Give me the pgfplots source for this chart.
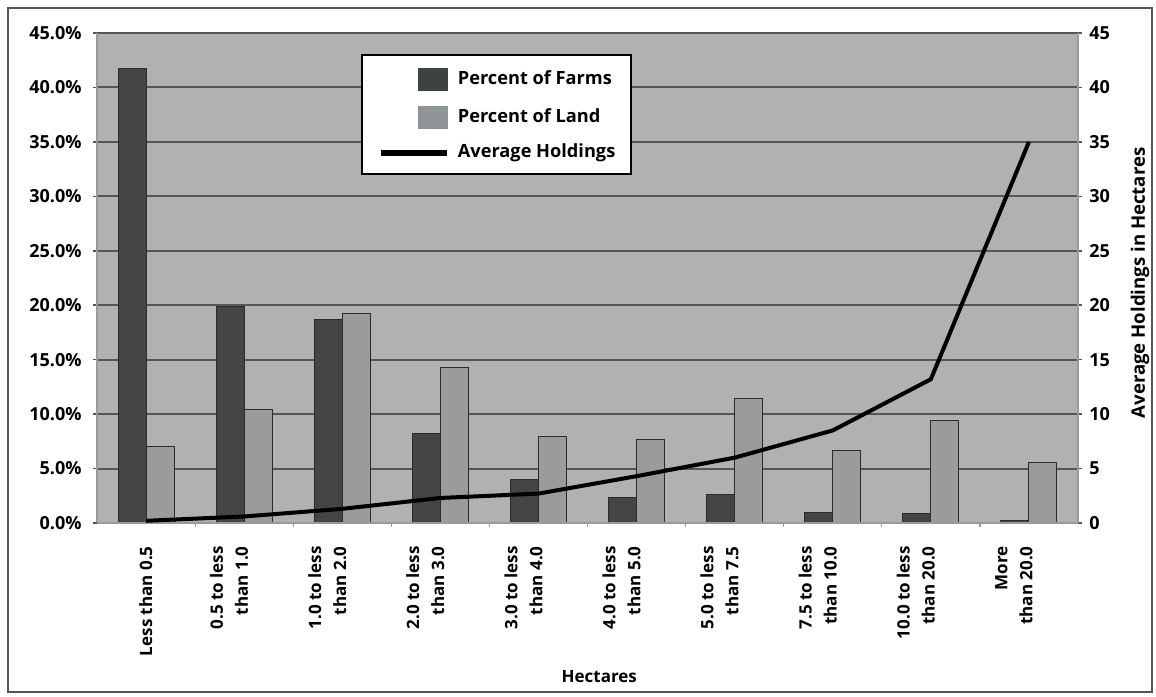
\documentclass[border=0pt]{standalone}
\usepackage{fontspec}
\setmainfont{Open Sans}
\usepackage{pgfplots}
\pgfplotsset{compat=1.18}

\definecolor{plotbg}{HTML}{B1B1B1}
\definecolor{gridc}{HTML}{565656}
\definecolor{farmc}{HTML}{454545}
\definecolor{landc}{HTML}{9B9B9B}
\definecolor{edgec}{HTML}{2B2B2B}
\definecolor{axisc}{HTML}{9A9A9A}
\definecolor{framec}{HTML}{555555}
\definecolor{farmleg}{HTML}{3F4340}
\definecolor{landleg}{HTML}{8F9597}

\pgfplotsset{
  common/.style={
    scale only axis, width=490.5pt, height=245pt,
    at={(48.5pt,86.5pt)}, anchor=south west,
    xmin=-0.5, xmax=9.5, ymin=0, ymax=45,
    tick align=outside, major tick length=2pt,
    /pgf/number format/assume math mode=true,
    every tick label/.append style={font=\fontsize{8.5}{12.5}\selectfont\bfseries, text=black},
    yticklabel style={font=\fontsize{9}{11}\selectfont\bfseries},
    label style={font=\fontsize{8.5}{10}\selectfont\bfseries},
  }
}

% share of farms and of land by holding size (percent)
\pgfplotstableread{
x farms land
0 41.7  7.05
1 19.9 10.4
2 18.7 19.2
3  8.2 14.3
4  3.95 7.9
5  2.3  7.7
6  2.6 11.4
7  1.0  6.7
8  0.9  9.4
9  0.2  5.6
}\sharetable

% average holding size (hectares)
\pgfplotstableread{
x avg
0 0.2
1 0.6
2 1.3
3 2.3
4 2.7
5 4.3
6 6.0
7 8.5
8 13.2
9 35.0
}\holdtable

\begin{document}
\begin{tikzpicture}
\useasboundingbox (0,0) rectangle (578pt,348pt);
\draw[framec, line width=0.75pt] (4pt,2pt) rectangle (576pt,344pt);

\begin{axis}[common,
  axis background/.style={fill=plotbg},
  axis x line*=bottom, axis y line*=left,
  axis line style={axisc, line width=0.6pt},
  ytick={5,10,...,45}, extra y ticks={0}, extra y tick style={grid=none},
  ymajorgrids, major grid style={gridc, line width=1pt},
  ytick style={gridc, line width=0.8pt},
  yticklabel={\pgfmathprintnumber[fixed,fixed zerofill,precision=1]{\tick}\%},
  yticklabel style={inner sep=0pt, xshift=-5.5pt},
  xtick={0,...,9},
  x tick style={draw=none},
  xticklabels={{\strut\\Less than 0.5},{0.5 to less\\than 1.0},{1.0 to less\\than 2.0},{2.0 to less\\than 3.0},{3.0 to less\\than 4.0},{4.0 to less\\than 5.0},{5.0 to less\\than 7.5},{7.5 to less\\than 10.0},{10.0 to less\\than 20.0},{More\\than 20.0}},
  xticklabel style={rotate=90, anchor=east, align=right, inner sep=0pt, xshift=-9.5pt, yshift=7.5pt},
  xlabel={Hectares},
  xlabel style={at={(rel axis cs:0.512,0)}, anchor=center, yshift=-77pt},
  ybar=0pt, bar width=14pt,
]
\addplot[fill=farmc, draw=edgec, line width=0.5pt] table[x=x, y=farms] {\sharetable};
\addplot[fill=landc, draw=edgec, line width=0.5pt] table[x=x, y=land] {\sharetable};
\end{axis}

\begin{axis}[common,
  axis x line*=bottom, axis y line*=right,
  axis line style={axisc, line width=0.6pt},
  xtick={0.5,1.5,...,8.5}, xticklabels={},
  x tick style={axisc, line width=0.6pt}, 
  ytick={0,5,...,45},
  ytick style={gridc, line width=0.8pt},
  yticklabel style={inner sep=0pt, xshift=3.5pt},
  ylabel={Average Holdings in Hectares},
  every axis y label/.style={at={(rel axis cs:1,0.49)}, xshift=31pt, rotate=90, anchor=center,
    font=\fontsize{9.3}{11}\selectfont\bfseries},
  legend style={at={(rel axis cs:0.269,0.957)}, anchor=north west, draw=black, line width=1pt,
    fill=white, inner xsep=8pt, inner ysep=6.5pt, row sep=7.5pt, column sep=4pt,
    font=\fontsize{9.1}{11}\selectfont\bfseries,
    nodes={inner sep=0pt, text height=6.5pt, text depth=2pt}},
  legend cell align=left,
]
\addlegendimage{legend image code/.code={\path[draw=none, fill=none] (0pt,-5.25pt) rectangle (33pt,5.25pt); \fill[farmleg] (19pt,-5.25pt) rectangle (33pt,5.25pt);}}
\addlegendentry{Percent of Farms}
\addlegendimage{legend image code/.code={\path[draw=none, fill=none] (0pt,-5.25pt) rectangle (33pt,5.25pt); \fill[landleg] (19pt,-5.25pt) rectangle (33pt,5.25pt);}}
\addlegendentry{Percent of Land}
\addplot[black, line width=2pt, mark=none,
  legend image code/.code={\draw[black, line width=3pt] (0pt,0pt) -- (33pt,0pt);}]
  table[x=x, y=avg] {\holdtable};
\addlegendentry{Average Holdings}
\end{axis}
\end{tikzpicture}
\end{document}
